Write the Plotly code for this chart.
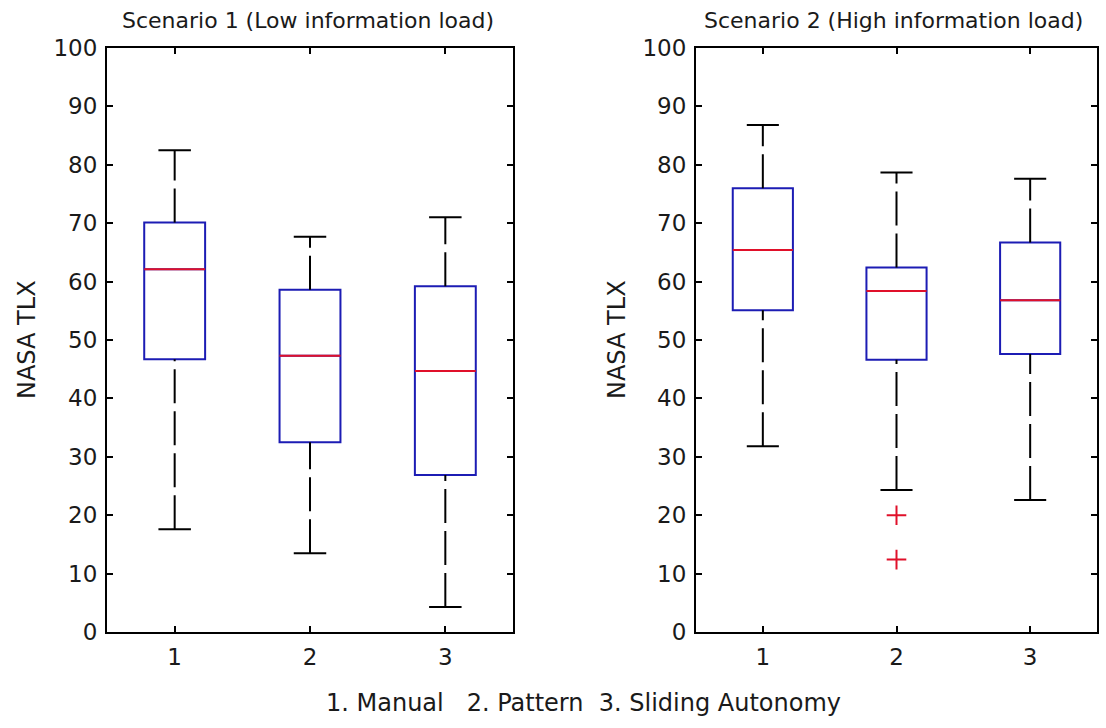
import plotly.graph_objects as go

# Group positions and caption
groups = [1, 2, 3]
caption = "1. Manual   2. Pattern  3. Sliding Autonomy"

# Scenario 1 (low information load): whisker ends, quartiles, medians
s1_low = [17.6, 13.5, 4.3]
s1_q1 = [46.7, 32.5, 26.9]
s1_med = [62.1, 47.3, 44.7]
s1_q3 = [70.1, 58.6, 59.2]
s1_high = [82.5, 67.7, 71.0]

# Scenario 2 (high information load)
s2_low = [31.8, 24.3, 22.6]
s2_q1 = [55.1, 46.6, 47.6]
s2_med = [65.4, 58.4, 56.8]
s2_q3 = [76.0, 62.4, 66.7]
s2_high = [86.8, 78.7, 77.6]
s2_out_x = [2, 2]
s2_out_y = [20.0, 12.4]

BLUE = "#1c1cb4"
RED = "#e0102a"
FONT = "DejaVu Sans"
TXT = "#1a1a1a"
BOX_W = 0.45
CAP_W = 0.24

fig = go.Figure()


def add_panel(xref, yref, low, q1, med, q3, high, out_x=None, out_y=None):
    # dashed whiskers
    wx, wy = [], []
    for g, lo, a, b, hi in zip(groups, low, q1, q3, high):
        wx += [g, g, None, g, g, None]
        wy += [b, hi, None, lo, a, None]
    fig.add_trace(go.Scatter(x=wx, y=wy, mode="lines", xaxis=xref, yaxis=yref,
                             line=dict(color="black", width=2, dash="34px,8px"),
                             hoverinfo="skip", showlegend=False))
    # whisker caps
    cx, cy = [], []
    for g, lo, hi in zip(groups, low, high):
        cx += [g - CAP_W / 2, g + CAP_W / 2, None, g - CAP_W / 2, g + CAP_W / 2, None]
        cy += [hi, hi, None, lo, lo, None]
    fig.add_trace(go.Scatter(x=cx, y=cy, mode="lines", xaxis=xref, yaxis=yref,
                             line=dict(color="black", width=2),
                             hoverinfo="skip", showlegend=False))
    # boxes
    fig.add_trace(go.Box(x=groups, q1=q1, median=med, q3=q3,
                         lowerfence=q1, upperfence=q3, width=BOX_W,
                         whiskerwidth=0, xaxis=xref, yaxis=yref,
                         line=dict(color=BLUE, width=2),
                         fillcolor="rgba(0,0,0,0)", boxpoints=False,
                         hoverinfo="skip", showlegend=False))
    # red median lines
    mx, my = [], []
    for g, m in zip(groups, med):
        mx += [g - BOX_W / 2, g + BOX_W / 2, None]
        my += [m, m, None]
    fig.add_trace(go.Scatter(x=mx, y=my, mode="lines", xaxis=xref, yaxis=yref,
                             line=dict(color=RED, width=2),
                             hoverinfo="skip", showlegend=False))
    if out_x:
        fig.add_trace(go.Scatter(x=out_x, y=out_y, mode="markers",
                                 xaxis=xref, yaxis=yref,
                                 marker=dict(symbol="cross-thin", size=14,
                                             line=dict(color=RED, width=2)),
                                 hoverinfo="skip", showlegend=False))


add_panel("x", "y", s1_low, s1_q1, s1_med, s1_q3, s1_high)
add_panel("x2", "y2", s2_low, s2_q1, s2_med, s2_q3, s2_high, s2_out_x, s2_out_y)

W, H = 1106, 728
y_dom = [1 - 632 / H, 1 - 48 / H]

axis_common = dict(showline=True, linecolor="black", linewidth=2, mirror="ticks",
                   ticks="inside", ticklen=6, tickwidth=2, tickcolor="black",
                   showgrid=False, zeroline=False, automargin=False,
                   ticklabelstandoff=3,
                   tickfont=dict(family=FONT, size=23, color=TXT))


def label(text, xp, yp, size, angle=0):
    return dict(text=text, x=xp / W, y=1 - yp / H, textangle=angle,
                xref="paper", yref="paper", xanchor="center", yanchor="middle",
                showarrow=False, font=dict(family=FONT, size=size, color=TXT))


fig.update_layout(
    width=W, height=H,
    margin=dict(l=0, r=0, t=0, b=0, pad=0, autoexpand=False),
    paper_bgcolor="white", plot_bgcolor="white",
    xaxis=dict(domain=[107 / W, 513 / W], range=[0.5, 3.5], tickvals=groups,
               anchor="y", **axis_common),
    yaxis=dict(domain=y_dom, range=[0, 100], dtick=10, anchor="x", **axis_common),
    xaxis2=dict(domain=[696 / W, 1097 / W], range=[0.5, 3.5], tickvals=groups,
                anchor="y2", **axis_common),
    yaxis2=dict(domain=y_dom, range=[0, 100], dtick=10, anchor="x2", **axis_common),
    annotations=[
        label("Scenario 1 (Low information load)", 308, 20, 22),
        label("Scenario 2 (High information load)", 894, 20, 22),
        label("NASA TLX", 27, 340, 24, -90),
        label("NASA TLX", 617, 340, 24, -90),
        label(caption, 583, 703, 24),
    ],
)

fig.write_html("out.html")
